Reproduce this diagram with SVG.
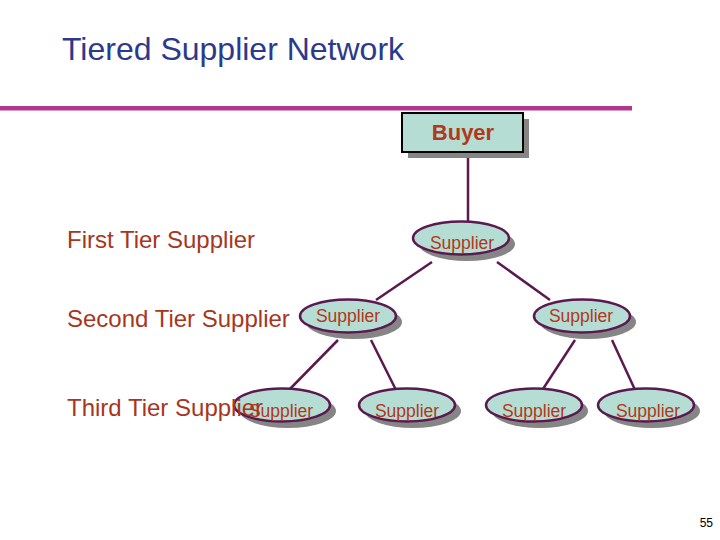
<svg xmlns="http://www.w3.org/2000/svg" width="720" height="540" viewBox="0 0 720 540">
<style>
.title{font-family:"Liberation Sans",Arial,sans-serif;font-size:32px;fill:#2B3A8A}
.tier{font-family:"Liberation Sans",Arial,sans-serif;font-size:24px;fill:#A8361E}
.lbl{font-family:"Liberation Sans",Arial,sans-serif;font-size:17.5px;fill:#B0381C;text-anchor:middle}
.buyer{font-family:"Liberation Sans",Arial,sans-serif;font-size:22px;font-weight:bold;fill:#B0381C;text-anchor:middle}
.node{fill:#B6DDD4;stroke:#5A1A50;stroke-width:2.5}
.shadow{fill:#858585}
.conn{stroke:#5A1A50;stroke-width:2.5;fill:none}
.pg{font-family:"Liberation Sans",Arial,sans-serif;font-size:12px;fill:#000;text-anchor:end}
</style>
<rect width="720" height="540" fill="#fff"/>
<text class="title" x="62" y="60">Tiered Supplier Network</text>
<rect x="0" y="106" width="632" height="4.5" fill="#B0388C"/>
<g id="connectors">
<line class="conn" x1="468" y1="152" x2="468" y2="222"/>
<line class="conn" x1="432" y1="262" x2="376" y2="300"/>
<line class="conn" x1="497" y1="262" x2="550" y2="300"/>
<line class="conn" x1="338" y1="340" x2="287" y2="392"/>
<line class="conn" x1="371" y1="340" x2="397" y2="392"/>
<line class="conn" x1="575" y1="340" x2="541" y2="392"/>
<line class="conn" x1="612" y1="340" x2="636" y2="392"/>
</g>
<g id="buyer">
<rect class="shadow" x="408" y="119" width="121" height="39"/>
<rect x="402" y="113" width="121" height="39" fill="#B6DDD4" stroke="#000" stroke-width="2"/>
<text class="buyer" x="463" y="140">Buyer</text>
</g>
<g id="s1">
<ellipse class="shadow" cx="467" cy="244" rx="48" ry="17"/>
<ellipse class="node" cx="461" cy="238" rx="48" ry="16.5"/>
<text class="lbl" x="462" y="249">Supplier</text>
</g>
<g id="s2a">
<ellipse class="shadow" cx="354" cy="322" rx="48" ry="17"/>
<ellipse class="node" cx="348" cy="316" rx="48" ry="16.5"/>
<text class="lbl" x="348" y="322">Supplier</text>
</g>
<g id="s2b">
<ellipse class="shadow" cx="588" cy="322" rx="48" ry="17"/>
<ellipse class="node" cx="582" cy="316" rx="48" ry="16.5"/>
<text class="lbl" x="581" y="322">Supplier</text>
</g>
<g id="s3a">
<ellipse class="shadow" cx="288" cy="411" rx="48" ry="17"/>
<ellipse class="node" cx="282" cy="405" rx="48" ry="16.5"/>
<text class="lbl" x="281" y="417">Supplier</text>
</g>
<g id="s3b">
<ellipse class="shadow" cx="413" cy="411" rx="48" ry="17"/>
<ellipse class="node" cx="407" cy="405" rx="48" ry="16.5"/>
<text class="lbl" x="407" y="417">Supplier</text>
</g>
<g id="s3c">
<ellipse class="shadow" cx="540" cy="411" rx="48" ry="17"/>
<ellipse class="node" cx="534" cy="405" rx="48" ry="16.5"/>
<text class="lbl" x="534" y="417">Supplier</text>
</g>
<g id="s3d">
<ellipse class="shadow" cx="652" cy="411" rx="48" ry="17"/>
<ellipse class="node" cx="646" cy="405" rx="48" ry="16.5"/>
<text class="lbl" x="648" y="417">Supplier</text>
</g>
<text class="tier" x="67" y="248">First Tier Supplier</text>
<text class="tier" x="67" y="327">Second Tier Supplier</text>
<text class="tier" x="67" y="416">Third Tier Supplier</text>
<text class="pg" x="713" y="527">55</text>
</svg>
